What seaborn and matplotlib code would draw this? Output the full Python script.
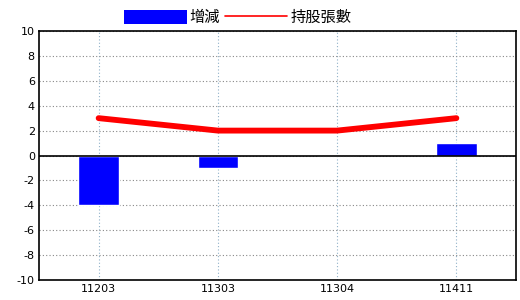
import matplotlib
matplotlib.use("Agg")
import matplotlib.pyplot as plt
import seaborn as sns
import pandas as pd
from matplotlib.patches import Patch
from matplotlib.lines import Line2D

categories = ["11203", "11303", "11304", "11411"]
change = [-4, -1, 0, 1]
holdings = [3, 2, 2, 3]
yticks = list(range(-10, 11, 2))

sns.set_style("white")
plt.rcParams['font.family'] = ['Noto Sans CJK TC', 'DejaVu Sans']
plt.rcParams['text.color'] = 'black'
plt.rcParams['xtick.color'] = 'black'
plt.rcParams['ytick.color'] = 'black'

df = pd.DataFrame({"cat": categories, "change": change, "hold": holdings})

fig = plt.figure(figsize=(5.2, 3.0), dpi=100)
ax = fig.add_axes([39/520, 20/300, 477/520, 249/300])

sns.barplot(data=df, x="cat", y="change", color="#0000ff", saturation=1,
            width=0.34, ax=ax, zorder=3)
sns.lineplot(data=df, x="cat", y="hold", color="#ff0000", linewidth=4.2,
             ax=ax, zorder=4, sort=False)

ax.set_xlim(-0.5, 3.5)
ax.set_ylim(-10, 10)
ax.set_yticks(yticks)
ax.set_yticklabels([str(v) for v in yticks], fontsize=8, family="DejaVu Sans")
ax.set_xticks(range(len(categories)))
ax.set_xticklabels(categories, fontsize=8, family="DejaVu Sans")
ax.set_xlabel("")
ax.set_ylabel("")
ax.tick_params(axis="both", length=0, pad=3, colors="black")

ax.yaxis.grid(True, linestyle=(0, (1, 2)), color="#888888", linewidth=0.8)
ax.xaxis.grid(True, linestyle=(0, (1, 2)), color="#8fb0c8", linewidth=0.8)
ax.set_axisbelow(True)
ax.axhline(0, color="black", linewidth=1.2, zorder=5)
for s in ax.spines.values():
    s.set_color("black")
    s.set_linewidth(1.2)

handles = [Patch(facecolor="#0000ff", edgecolor="none", label="增減"),
           Line2D([0], [0], color="#ff0000", linewidth=1.2, label="持股張數")]
leg = fig.legend(handles=handles, loc="upper center", bbox_to_anchor=(0.457, 1.015),
                 ncol=2, frameon=False, fontsize=11, handlelength=4.1,
                 handleheight=1.05, handletextpad=0.2, columnspacing=0.3)
for t in leg.get_texts():
    t.set_color("black")

fig.savefig("out.png", dpi=100)
